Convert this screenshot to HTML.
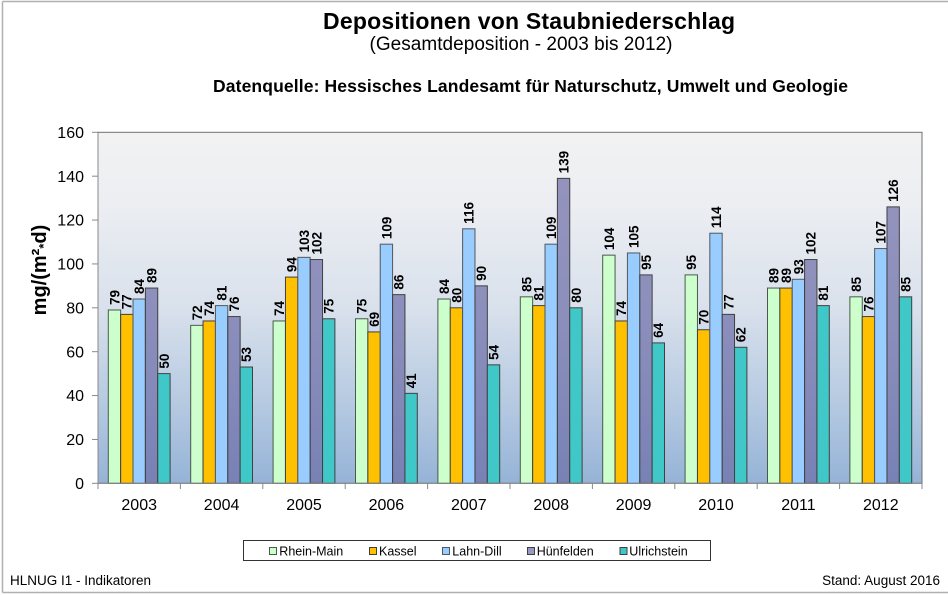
<!DOCTYPE html>
<html><head><meta charset="utf-8"><style>
html,body{margin:0;padding:0;background:#fff;}
svg{display:block;}
text{font-family:"Liberation Sans",Arial,sans-serif;fill:#000;}
.lbl{font-size:13.5px;font-weight:bold;}
.yt{font-size:16px;text-anchor:end;}
.xt{font-size:16px;text-anchor:middle;}
.lg{font-size:12.5px;}
.b0{fill:#ccffcc;stroke:#4a5a4a;stroke-width:1;}
.b1{fill:#ffc000;stroke:#404040;stroke-width:1;}
.b2{fill:#99ccff;stroke:#505860;stroke-width:1;}
.b3{fill:#6c6ca6;fill-opacity:0.7;stroke:#404040;stroke-width:1;}
.b4{fill:#40c8c8;stroke:#404040;stroke-width:1;}
</style></head><body>
<svg width="948" height="595" viewBox="0 0 948 595" xmlns="http://www.w3.org/2000/svg">
<defs>
<linearGradient id="bg" x1="0" y1="0" x2="0" y2="1">
<stop offset="0" stop-color="#f2f2f2"/>
<stop offset="0.2" stop-color="#eceef2"/>
<stop offset="0.5" stop-color="#d9e1ec"/>
<stop offset="0.8" stop-color="#b2c7e0"/>
<stop offset="1" stop-color="#95b3d7"/>
</linearGradient>
</defs>
<rect x="0" y="0" width="948" height="595" fill="#fff"/>
<!-- outer border -->
<line x1="2.5" y1="1.5" x2="948" y2="1.5" stroke="#b0b0b0" stroke-width="1.5"/>
<line x1="2.5" y1="1.5" x2="2.5" y2="592.5" stroke="#b0b0b0" stroke-width="1.5"/>
<line x1="2.5" y1="592.5" x2="948" y2="592.5" stroke="#b0b0b0" stroke-width="1.5"/>

<!-- titles -->
<text x="529" y="29" text-anchor="middle" font-size="23" font-weight="bold" textLength="412">Depositionen von Staubniederschlag</text>
<text x="521" y="50" text-anchor="middle" font-size="19" textLength="303">(Gesamtdeposition - 2003 bis 2012)</text>
<text x="530.5" y="92" text-anchor="middle" font-size="17.5" font-weight="bold" textLength="635">Datenquelle: Hessisches Landesamt für Naturschutz, Umwelt und Geologie</text>

<!-- plot area -->
<rect x="98" y="132.3" width="824" height="351" fill="url(#bg)" stroke="#707070" stroke-width="1"/>

<!-- y axis -->
<line x1="98" y1="132.3" x2="98" y2="483.3" stroke="#888" stroke-width="1"/>
<g stroke="#888" stroke-width="1">
<line x1="92" y1="483.3" x2="98" y2="483.3"/>
<line x1="92" y1="439.43" x2="98" y2="439.43"/>
<line x1="92" y1="395.55" x2="98" y2="395.55"/>
<line x1="92" y1="351.68" x2="98" y2="351.68"/>
<line x1="92" y1="307.8" x2="98" y2="307.8"/>
<line x1="92" y1="263.93" x2="98" y2="263.93"/>
<line x1="92" y1="220.05" x2="98" y2="220.05"/>
<line x1="92" y1="176.18" x2="98" y2="176.18"/>
<line x1="92" y1="132.3" x2="98" y2="132.3"/>
</g>
<text class="yt" x="84" y="489">0</text>
<text class="yt" x="84" y="445.1">20</text>
<text class="yt" x="84" y="401.2">40</text>
<text class="yt" x="84" y="357.3">60</text>
<text class="yt" x="84" y="313.5">80</text>
<text class="yt" x="84" y="269.6">100</text>
<text class="yt" x="84" y="225.7">120</text>
<text class="yt" x="84" y="181.8">140</text>
<text class="yt" x="84" y="138">160</text>

<text transform="translate(46,270) rotate(-90)" text-anchor="middle" font-size="20" font-weight="bold">mg/(m²<tspan font-size="13" dy="2">*</tspan><tspan dy="-2">d)</tspan></text>

<!-- bars -->
<g transform="translate(98,0)">
<rect class="b0" x="10.3" y="309.99" width="12.36" height="173.31"/>
<rect class="b1" x="22.66" y="314.38" width="12.36" height="168.92"/>
<rect class="b2" x="35.02" y="299.02" width="12.36" height="184.28"/>
<rect class="b3" x="47.38" y="288.06" width="12.36" height="195.24"/>
<rect class="b4" x="59.74" y="373.61" width="12.36" height="109.69"/>
<text class="lbl" transform="translate(21.4,304.99) rotate(-90)">79</text>
<text class="lbl" transform="translate(33.7,309.38) rotate(-90)">77</text>
<text class="lbl" transform="translate(46.1,294.02) rotate(-90)">84</text>
<text class="lbl" transform="translate(58.5,283.06) rotate(-90)">89</text>
<text class="lbl" transform="translate(70.8,368.61) rotate(-90)">50</text>
</g>
<g transform="translate(180.4,0)">
<rect class="b0" x="10.3" y="325.35" width="12.36" height="157.95"/>
<rect class="b1" x="22.66" y="320.96" width="12.36" height="162.34"/>
<rect class="b2" x="35.02" y="305.61" width="12.36" height="177.69"/>
<rect class="b3" x="47.38" y="316.57" width="12.36" height="166.73"/>
<rect class="b4" x="59.74" y="367.03" width="12.36" height="116.27"/>
<text class="lbl" transform="translate(21.4,320.35) rotate(-90)">72</text>
<text class="lbl" transform="translate(33.7,315.96) rotate(-90)">74</text>
<text class="lbl" transform="translate(46.1,300.61) rotate(-90)">81</text>
<text class="lbl" transform="translate(58.5,311.57) rotate(-90)">76</text>
<text class="lbl" transform="translate(70.8,362.03) rotate(-90)">53</text>
</g>
<g transform="translate(262.8,0)">
<rect class="b0" x="10.3" y="320.96" width="12.36" height="162.34"/>
<rect class="b1" x="22.66" y="277.09" width="12.36" height="206.21"/>
<rect class="b2" x="35.02" y="257.34" width="12.36" height="225.96"/>
<rect class="b3" x="47.38" y="259.54" width="12.36" height="223.76"/>
<rect class="b4" x="59.74" y="318.77" width="12.36" height="164.53"/>
<text class="lbl" transform="translate(21.4,315.96) rotate(-90)">74</text>
<text class="lbl" transform="translate(33.7,272.09) rotate(-90)">94</text>
<text class="lbl" transform="translate(46.1,252.34) rotate(-90)">103</text>
<text class="lbl" transform="translate(58.5,254.54) rotate(-90)">102</text>
<text class="lbl" transform="translate(70.8,313.77) rotate(-90)">75</text>
</g>
<g transform="translate(345.2,0)">
<rect class="b0" x="10.3" y="318.77" width="12.36" height="164.53"/>
<rect class="b1" x="22.66" y="331.93" width="12.36" height="151.37"/>
<rect class="b2" x="35.02" y="244.18" width="12.36" height="239.12"/>
<rect class="b3" x="47.38" y="294.64" width="12.36" height="188.66"/>
<rect class="b4" x="59.74" y="393.36" width="12.36" height="89.94"/>
<text class="lbl" transform="translate(21.4,313.77) rotate(-90)">75</text>
<text class="lbl" transform="translate(33.7,326.93) rotate(-90)">69</text>
<text class="lbl" transform="translate(46.1,239.18) rotate(-90)">109</text>
<text class="lbl" transform="translate(58.5,289.64) rotate(-90)">86</text>
<text class="lbl" transform="translate(70.8,388.36) rotate(-90)">41</text>
</g>
<g transform="translate(427.6,0)">
<rect class="b0" x="10.3" y="299.02" width="12.36" height="184.28"/>
<rect class="b1" x="22.66" y="307.8" width="12.36" height="175.5"/>
<rect class="b2" x="35.02" y="228.82" width="12.36" height="254.48"/>
<rect class="b3" x="47.38" y="285.86" width="12.36" height="197.44"/>
<rect class="b4" x="59.74" y="364.84" width="12.36" height="118.46"/>
<text class="lbl" transform="translate(21.4,294.02) rotate(-90)">84</text>
<text class="lbl" transform="translate(33.7,302.8) rotate(-90)">80</text>
<text class="lbl" transform="translate(46.1,223.82) rotate(-90)">116</text>
<text class="lbl" transform="translate(58.5,280.86) rotate(-90)">90</text>
<text class="lbl" transform="translate(70.8,359.84) rotate(-90)">54</text>
</g>
<g transform="translate(510,0)">
<rect class="b0" x="10.3" y="296.83" width="12.36" height="186.47"/>
<rect class="b1" x="22.66" y="305.61" width="12.36" height="177.69"/>
<rect class="b2" x="35.02" y="244.18" width="12.36" height="239.12"/>
<rect class="b3" x="47.38" y="178.37" width="12.36" height="304.93"/>
<rect class="b4" x="59.74" y="307.8" width="12.36" height="175.5"/>
<text class="lbl" transform="translate(21.4,291.83) rotate(-90)">85</text>
<text class="lbl" transform="translate(33.7,300.61) rotate(-90)">81</text>
<text class="lbl" transform="translate(46.1,239.18) rotate(-90)">109</text>
<text class="lbl" transform="translate(58.5,173.37) rotate(-90)">139</text>
<text class="lbl" transform="translate(70.8,302.8) rotate(-90)">80</text>
</g>
<g transform="translate(592.4,0)">
<rect class="b0" x="10.3" y="255.15" width="12.36" height="228.15"/>
<rect class="b1" x="22.66" y="320.96" width="12.36" height="162.34"/>
<rect class="b2" x="35.02" y="252.96" width="12.36" height="230.34"/>
<rect class="b3" x="47.38" y="274.89" width="12.36" height="208.41"/>
<rect class="b4" x="59.74" y="342.9" width="12.36" height="140.4"/>
<text class="lbl" transform="translate(21.4,250.15) rotate(-90)">104</text>
<text class="lbl" transform="translate(33.7,315.96) rotate(-90)">74</text>
<text class="lbl" transform="translate(46.1,247.96) rotate(-90)">105</text>
<text class="lbl" transform="translate(58.5,269.89) rotate(-90)">95</text>
<text class="lbl" transform="translate(70.8,337.9) rotate(-90)">64</text>
</g>
<g transform="translate(674.8,0)">
<rect class="b0" x="10.3" y="274.89" width="12.36" height="208.41"/>
<rect class="b1" x="22.66" y="329.74" width="12.36" height="153.56"/>
<rect class="b2" x="35.02" y="233.21" width="12.36" height="250.09"/>
<rect class="b3" x="47.38" y="314.38" width="12.36" height="168.92"/>
<rect class="b4" x="59.74" y="347.29" width="12.36" height="136.01"/>
<text class="lbl" transform="translate(21.4,269.89) rotate(-90)">95</text>
<text class="lbl" transform="translate(33.7,324.74) rotate(-90)">70</text>
<text class="lbl" transform="translate(46.1,228.21) rotate(-90)">114</text>
<text class="lbl" transform="translate(58.5,309.38) rotate(-90)">77</text>
<text class="lbl" transform="translate(70.8,342.29) rotate(-90)">62</text>
</g>
<g transform="translate(757.2,0)">
<rect class="b0" x="10.3" y="288.06" width="12.36" height="195.24"/>
<rect class="b1" x="22.66" y="288.06" width="12.36" height="195.24"/>
<rect class="b2" x="35.02" y="279.28" width="12.36" height="204.02"/>
<rect class="b3" x="47.38" y="259.54" width="12.36" height="223.76"/>
<rect class="b4" x="59.74" y="305.61" width="12.36" height="177.69"/>
<text class="lbl" transform="translate(21.4,283.06) rotate(-90)">89</text>
<text class="lbl" transform="translate(33.7,283.06) rotate(-90)">89</text>
<text class="lbl" transform="translate(46.1,274.28) rotate(-90)">93</text>
<text class="lbl" transform="translate(58.5,254.54) rotate(-90)">102</text>
<text class="lbl" transform="translate(70.8,300.61) rotate(-90)">81</text>
</g>
<g transform="translate(839.6,0)">
<rect class="b0" x="10.3" y="296.83" width="12.36" height="186.47"/>
<rect class="b1" x="22.66" y="316.57" width="12.36" height="166.73"/>
<rect class="b2" x="35.02" y="248.57" width="12.36" height="234.73"/>
<rect class="b3" x="47.38" y="206.89" width="12.36" height="276.41"/>
<rect class="b4" x="59.74" y="296.83" width="12.36" height="186.47"/>
<text class="lbl" transform="translate(21.4,291.83) rotate(-90)">85</text>
<text class="lbl" transform="translate(33.7,311.57) rotate(-90)">76</text>
<text class="lbl" transform="translate(46.1,243.57) rotate(-90)">107</text>
<text class="lbl" transform="translate(58.5,201.89) rotate(-90)">126</text>
<text class="lbl" transform="translate(70.8,291.83) rotate(-90)">85</text>
</g>

<!-- x axis -->
<line x1="98" y1="483.3" x2="922" y2="483.3" stroke="#888" stroke-width="1"/>
<g stroke="#888" stroke-width="1">
<line x1="98" y1="483.3" x2="98" y2="489"/>
<line x1="180.4" y1="483.3" x2="180.4" y2="489"/>
<line x1="262.8" y1="483.3" x2="262.8" y2="489"/>
<line x1="345.2" y1="483.3" x2="345.2" y2="489"/>
<line x1="427.6" y1="483.3" x2="427.6" y2="489"/>
<line x1="510" y1="483.3" x2="510" y2="489"/>
<line x1="592.4" y1="483.3" x2="592.4" y2="489"/>
<line x1="674.8" y1="483.3" x2="674.8" y2="489"/>
<line x1="757.2" y1="483.3" x2="757.2" y2="489"/>
<line x1="839.6" y1="483.3" x2="839.6" y2="489"/>
<line x1="922" y1="483.3" x2="922" y2="489"/>
</g>
<text class="xt" x="139.2" y="510">2003</text>
<text class="xt" x="221.6" y="510">2004</text>
<text class="xt" x="304" y="510">2005</text>
<text class="xt" x="386.4" y="510">2006</text>
<text class="xt" x="468.8" y="510">2007</text>
<text class="xt" x="551.2" y="510">2008</text>
<text class="xt" x="633.6" y="510">2009</text>
<text class="xt" x="716" y="510">2010</text>
<text class="xt" x="798.4" y="510">2011</text>
<text class="xt" x="880.8" y="510">2012</text>

<!-- legend -->
<rect x="243.5" y="540.5" width="467" height="20" fill="#fff" stroke="#333" stroke-width="1"/>
<rect class="b0" x="269.5" y="547.5" width="7" height="7"/>
<text class="lg" x="279.3" y="555.5">Rhein-Main</text>
<rect class="b1" x="369.5" y="547.5" width="7" height="7"/>
<text class="lg" x="379" y="555.5">Kassel</text>
<rect class="b2" x="442.5" y="547.5" width="7" height="7"/>
<text class="lg" x="452.3" y="555.5">Lahn-Dill</text>
<rect class="b3" x="527.5" y="547.5" width="7" height="7"/>
<text class="lg" x="536.7" y="555.5">Hünfelden</text>
<rect class="b4" x="620" y="547.5" width="7" height="7"/>
<text class="lg" x="629.3" y="555.5">Ulrichstein</text>

<!-- footer -->
<text x="10" y="585" font-size="13.5">HLNUG I1 - Indikatoren</text>
<text x="940" y="585" font-size="13.5" text-anchor="end">Stand: August 2016</text>
</svg>
</body></html>
